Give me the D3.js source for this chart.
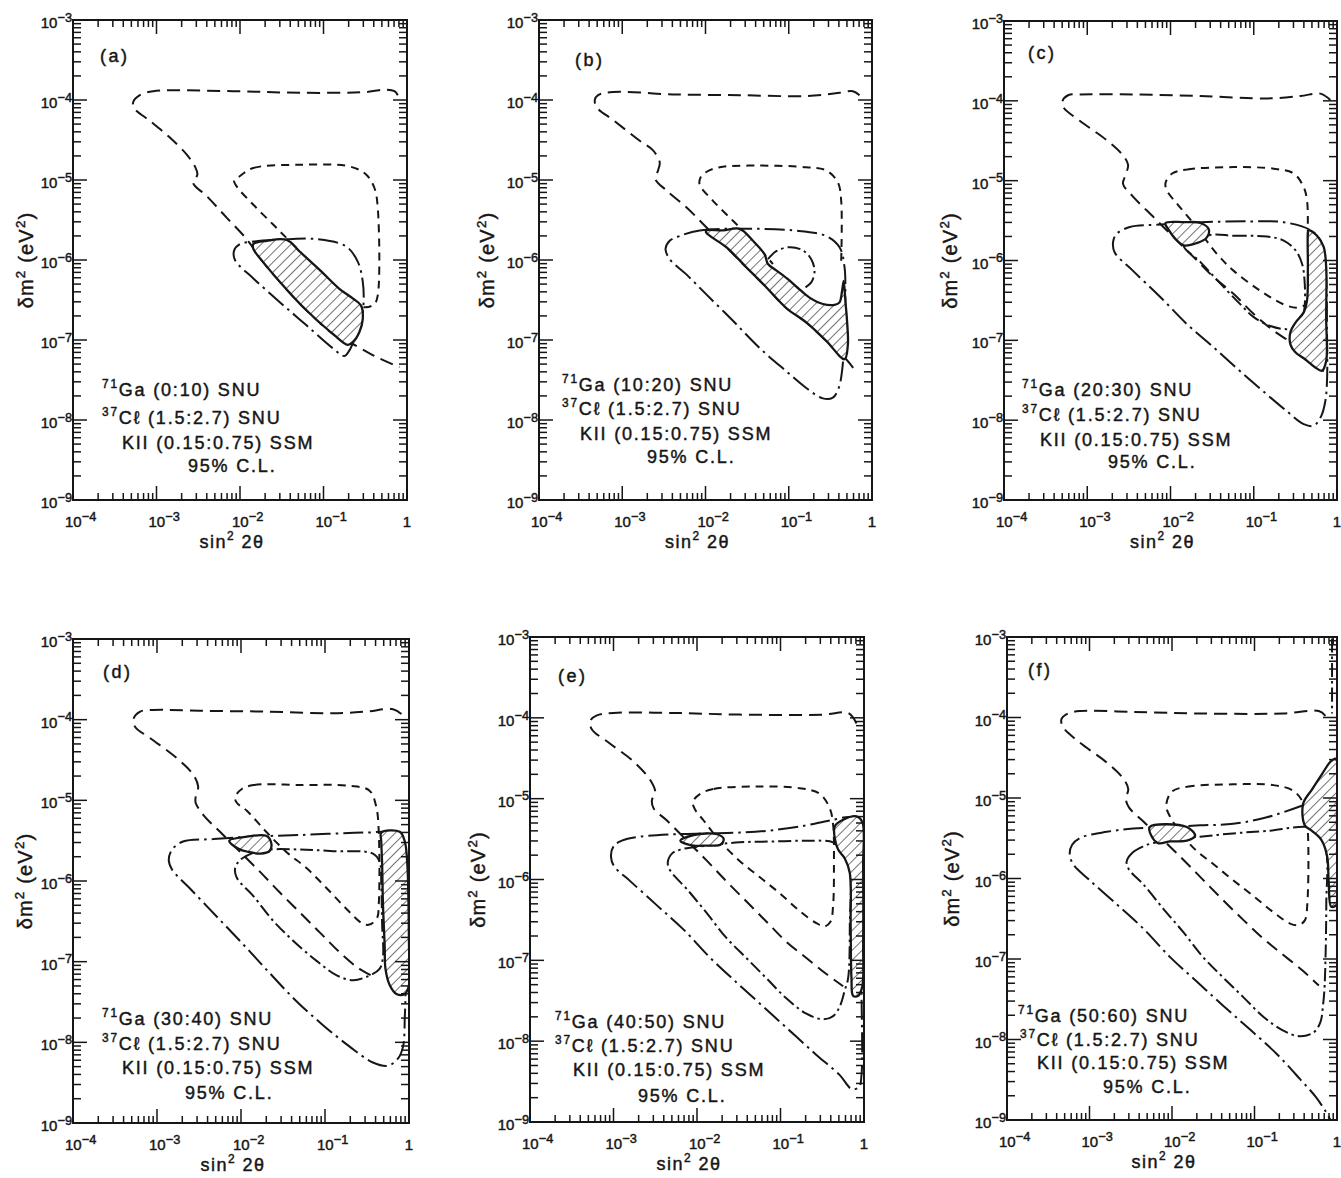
<!DOCTYPE html>
<html>
<head>
<meta charset="utf-8">
<script src="https://cdn.jsdelivr.net/npm/d3@7"></script>
<style>
  body { margin: 0; background: #fff; }
  svg { display: block; }
  text { font-family: "Liberation Sans", Arial, sans-serif; fill: #161616; stroke: #161616; stroke-width: 0.45px; }
</style>
</head>
<body>
<svg id="chart" width="1341" height="1178"></svg>
<script>
// axis decades (exponents of 10)
var xTickExps = [-4, -3, -2, -1, 0];
var yTickExps = [-3, -4, -5, -6, -7, -8, -9];

// panel texts
var panelLabels = ['(a)', '(b)', '(c)', '(d)', '(e)', '(f)'];
var gaRanges = ['(0:10)', '(10:20)', '(20:30)', '(30:40)', '(40:50)', '(50:60)'];
var clRange = '(1.5:2.7)';
var kRange = '(0.15:0.75)';
var clLevel = '95% C.L.';

// contours, points are [log10(sin^2 2theta), log10(dm^2)]
// ---- (a) 0:10 SNU
var a_bigDash = [[-0.11,-3.94],[-0.15,-3.89],[-0.25,-3.87],[-0.49,-3.90],[-1.28,-3.91],[-2.08,-3.89],[-3.04,-3.89],[-3.20,-3.94],[-3.28,-4.03],[-3.26,-4.11],[-3.08,-4.26],[-2.84,-4.47],[-2.64,-4.68],[-2.54,-4.83],[-2.51,-4.93],[-2.56,-5.04],[-2.40,-5.20],[-2.16,-5.47],[-1.92,-5.74],[-1.72,-6.03],[-1.50,-6.30],[-1.28,-6.55],[-1.08,-6.75],[-0.88,-6.93],[-0.65,-7.05],[-0.37,-7.21],[-0.09,-7.34]];
var a_smallDash = [[-2.00,-4.95],[-1.84,-4.85],[-1.28,-4.81],[-0.69,-4.83],[-0.49,-4.93],[-0.39,-5.10],[-0.35,-5.35],[-0.35,-6.44],[-0.39,-6.55],[-0.51,-6.59],[-0.71,-6.46],[-1.04,-6.15],[-1.40,-5.77],[-1.60,-5.56],[-1.84,-5.31],[-2.04,-5.08],[-2.07,-5.01]];
var a_dashDot = [[-2.00,-5.80],[-1.84,-5.77],[-1.44,-5.74],[-1.08,-5.74],[-0.73,-5.83],[-0.59,-6.02],[-0.53,-6.27],[-0.52,-6.53],[-0.55,-6.78],[-0.63,-6.99],[-0.69,-7.13],[-0.75,-7.20],[-0.88,-7.11],[-1.20,-6.82],[-1.52,-6.53],[-1.84,-6.23],[-2.06,-6.00],[-2.07,-5.88]];
var a_hatch = [[[-1.84,-5.80],[-1.68,-5.76],[-1.44,-5.75],[-1.28,-5.90],[-1.04,-6.13],[-0.81,-6.36],[-0.65,-6.48],[-0.55,-6.57],[-0.53,-6.74],[-0.57,-6.90],[-0.65,-7.03],[-0.71,-7.06],[-0.88,-6.93],[-1.08,-6.75],[-1.28,-6.55],[-1.50,-6.30],[-1.72,-6.03],[-1.84,-5.86]]];

// ---- (b) 10:20 SNU
var b_bigDash = [[-0.15,-3.94],[-0.23,-3.89],[-0.39,-3.91],[-0.79,-3.95],[-1.59,-3.94],[-2.39,-3.93],[-3.11,-3.90],[-3.29,-3.94],[-3.33,-4.00],[-3.30,-4.10],[-3.11,-4.25],[-2.79,-4.51],[-2.63,-4.63],[-2.55,-4.78],[-2.57,-4.88],[-2.60,-4.99],[-2.47,-5.13],[-2.23,-5.34],[-1.99,-5.59],[-1.75,-5.84],[-1.51,-6.09],[-1.27,-6.34],[-1.03,-6.60],[-0.79,-6.78],[-0.55,-7.01],[-0.31,-7.24],[-0.21,-7.37]];
var b_smallDash = [[-0.37,-6.01],[-0.37,-5.26],[-0.41,-5.03],[-0.55,-4.88],[-0.79,-4.84],[-1.39,-4.82],[-1.83,-4.84],[-1.99,-4.90],[-2.06,-4.97],[-2.07,-5.06],[-1.91,-5.26],[-1.67,-5.51],[-1.47,-5.72],[-1.29,-5.93],[-1.19,-6.05]];
var b_dashDot = [[-2.31,-5.70],[-2.07,-5.63],[-1.59,-5.61],[-0.95,-5.63],[-0.55,-5.70],[-0.39,-5.84],[-0.33,-6.09],[-0.32,-6.43],[-0.33,-6.93],[-0.36,-7.39],[-0.40,-7.60],[-0.47,-7.72],[-0.59,-7.73],[-0.79,-7.60],[-1.03,-7.39],[-1.35,-7.10],[-1.67,-6.76],[-1.99,-6.43],[-2.23,-6.18],[-2.43,-5.99],[-2.48,-5.86],[-2.43,-5.76]];
var b_dashDot2 = [[-1.25,-5.99],[-1.15,-5.89],[-0.99,-5.84],[-0.83,-5.88],[-0.73,-5.99],[-0.69,-6.14],[-0.73,-6.28],[-0.81,-6.35]];
var b_hatch = [[[-1.99,-5.63],[-1.79,-5.63],[-1.59,-5.61],[-1.43,-5.76],[-1.29,-5.93],[-1.25,-6.05],[-1.15,-6.13],[-1.01,-6.24],[-0.89,-6.35],[-0.75,-6.47],[-0.59,-6.55],[-0.45,-6.56],[-0.39,-6.53],[-0.36,-6.39],[-0.34,-6.26],[-0.32,-6.51],[-0.30,-6.76],[-0.29,-7.06],[-0.33,-7.24],[-0.55,-7.01],[-0.79,-6.78],[-1.03,-6.60],[-1.27,-6.34],[-1.51,-6.09],[-1.75,-5.84],[-1.99,-5.66]]];

// ---- (c) 20:30 SNU
var c_bigDash = [[-0.08,-3.99],[-0.20,-3.91],[-0.44,-3.94],[-0.84,-3.97],[-1.64,-3.94],[-2.45,-3.92],[-3.09,-3.92],[-3.23,-3.93],[-3.30,-4.01],[-3.28,-4.09],[-3.09,-4.25],[-2.77,-4.49],[-2.59,-4.66],[-2.51,-4.80],[-2.54,-4.93],[-2.57,-5.04],[-2.45,-5.20],[-2.20,-5.46],[-1.96,-5.71],[-1.72,-5.96],[-1.48,-6.21],[-1.24,-6.42],[-1.00,-6.67],[-0.76,-6.88],[-0.52,-7.05],[-0.28,-7.26],[-0.16,-7.39]];
var c_smallDash = [[-1.98,-4.91],[-1.80,-4.86],[-1.24,-4.83],[-0.76,-4.85],[-0.52,-4.91],[-0.40,-5.08],[-0.36,-5.25],[-0.35,-5.67],[-0.35,-6.42],[-0.38,-6.55],[-0.48,-6.59],[-0.64,-6.55],[-0.92,-6.38],[-1.24,-6.13],[-1.44,-5.92],[-1.72,-5.54],[-1.92,-5.29],[-2.04,-5.13],[-2.06,-5.03]];
var c_dashDot = [[-2.49,-5.58],[-2.12,-5.55],[-1.64,-5.52],[-1.04,-5.51],[-0.64,-5.52],[-0.32,-5.62],[-0.20,-5.75],[-0.14,-6.08],[-0.12,-6.92],[-0.12,-7.51],[-0.14,-7.76],[-0.19,-7.95],[-0.28,-8.07],[-0.40,-8.05],[-0.60,-7.89],[-0.84,-7.68],[-1.16,-7.39],[-1.48,-7.09],[-1.80,-6.80],[-2.12,-6.46],[-2.45,-6.13],[-2.67,-5.90],[-2.69,-5.77],[-2.65,-5.67]];
var c_dashDot2 = [[-1.52,-5.68],[-1.24,-5.69],[-0.84,-5.70],[-0.64,-5.75],[-0.50,-5.87],[-0.42,-6.04],[-0.39,-6.25],[-0.39,-6.59],[-0.44,-6.82],[-0.60,-6.86],[-0.80,-6.82],[-1.00,-6.71],[-1.16,-6.55],[-1.40,-6.29],[-1.64,-6.02],[-1.84,-5.81]];
var c_hatch = [
  [[-2.06,-5.53],[-1.84,-5.52],[-1.64,-5.53],[-1.54,-5.61],[-1.57,-5.72],[-1.68,-5.78],[-1.84,-5.81],[-1.94,-5.73],[-2.02,-5.62]],
  [[-0.34,-5.62],[-0.24,-5.69],[-0.16,-5.83],[-0.13,-6.08],[-0.13,-6.71],[-0.13,-7.26],[-0.18,-7.38],[-0.26,-7.34],[-0.38,-7.24],[-0.50,-7.15],[-0.56,-7.05],[-0.56,-6.90],[-0.50,-6.78],[-0.40,-6.65],[-0.36,-6.50],[-0.35,-6.08],[-0.35,-5.67]]
];

// ---- (d) 30:40 SNU
var d_bigDash = [[-0.09,-3.93],[-0.19,-3.87],[-0.51,-3.90],[-0.90,-3.92],[-1.70,-3.90],[-2.49,-3.89],[-3.04,-3.88],[-3.20,-3.90],[-3.28,-3.99],[-3.26,-4.09],[-3.08,-4.23],[-2.76,-4.48],[-2.57,-4.68],[-2.51,-4.83],[-2.54,-4.96],[-2.54,-5.03],[-2.45,-5.18],[-2.25,-5.39],[-2.01,-5.64],[-1.77,-5.89],[-1.54,-6.14],[-1.30,-6.39],[-1.06,-6.64],[-0.82,-6.89],[-0.59,-7.09],[-0.43,-7.18]];
var d_smallDash = [[-1.99,-4.86],[-1.85,-4.81],[-1.30,-4.81],[-0.71,-4.82],[-0.47,-4.88],[-0.39,-5.08],[-0.36,-5.39],[-0.36,-6.29],[-0.38,-6.46],[-0.47,-6.54],[-0.55,-6.53],[-0.75,-6.34],[-0.98,-6.09],[-1.22,-5.84],[-1.46,-5.64],[-1.70,-5.39],[-1.93,-5.13],[-2.05,-5.03],[-2.07,-4.96]];
var d_dashDot = [[-2.69,-5.51],[-2.33,-5.48],[-1.89,-5.45],[-1.30,-5.43],[-0.51,-5.40],[-0.19,-5.41],[-0.11,-5.59],[-0.07,-6.04],[-0.05,-6.79],[-0.04,-7.29],[-0.05,-7.69],[-0.07,-8.05],[-0.13,-8.20],[-0.25,-8.29],[-0.43,-8.25],[-0.71,-8.05],[-1.02,-7.79],[-1.34,-7.49],[-1.66,-7.14],[-1.97,-6.79],[-2.29,-6.44],[-2.61,-6.09],[-2.82,-5.86],[-2.86,-5.74],[-2.82,-5.61]];
var d_dashDot2 = [[-2.01,-5.74],[-1.85,-5.65],[-1.66,-5.61],[-1.30,-5.61],[-0.90,-5.63],[-0.43,-5.66],[-0.35,-5.76],[-0.33,-6.04],[-0.32,-6.54],[-0.31,-6.94],[-0.35,-7.09],[-0.51,-7.19],[-0.67,-7.23],[-0.86,-7.17],[-1.10,-6.99],[-1.38,-6.74],[-1.62,-6.49],[-1.85,-6.19],[-2.05,-5.96],[-2.07,-5.84]];
var d_hatch = [
  [[-2.14,-5.50],[-1.93,-5.45],[-1.70,-5.44],[-1.64,-5.53],[-1.66,-5.63],[-1.77,-5.66],[-1.91,-5.64],[-2.03,-5.60]],
  [[-0.33,-5.40],[-0.11,-5.39],[-0.05,-5.51],[-0.02,-5.79],[0,-6.79],[0,-7.29],[-0.05,-7.40],[-0.15,-7.40],[-0.23,-7.29],[-0.28,-7.09],[-0.29,-6.79],[-0.31,-6.29],[-0.32,-5.79],[-0.33,-5.51]]
];

// ---- (e) 40:50 SNU
var e_bigDash = [[-0.09,-4.07],[-0.19,-3.94],[-0.49,-3.96],[-1.49,-3.96],[-2.28,-3.94],[-3.00,-3.94],[-3.20,-3.97],[-3.28,-4.04],[-3.26,-4.14],[-3.04,-4.32],[-2.76,-4.54],[-2.56,-4.77],[-2.50,-4.92],[-2.54,-5.02],[-2.52,-5.12],[-2.36,-5.27],[-2.12,-5.52],[-1.88,-5.77],[-1.65,-6.02],[-1.41,-6.27],[-1.17,-6.52],[-0.93,-6.77],[-0.69,-6.97],[-0.45,-7.17],[-0.25,-7.32]];
var e_smallDash = [[-1.96,-4.94],[-1.80,-4.88],[-1.29,-4.85],[-0.77,-4.87],[-0.53,-4.94],[-0.41,-5.12],[-0.37,-5.32],[-0.36,-5.82],[-0.37,-6.32],[-0.40,-6.52],[-0.47,-6.58],[-0.57,-6.54],[-0.77,-6.39],[-1.01,-6.17],[-1.25,-5.97],[-1.49,-5.77],[-1.73,-5.52],[-1.92,-5.27],[-2.02,-5.14],[-2.05,-5.04]];
var e_dashDot = [[-2.90,-5.52],[-3.00,-5.59],[-3.03,-5.72],[-2.99,-5.84],[-2.80,-6.02],[-2.48,-6.32],[-2.16,-6.62],[-1.84,-6.97],[-1.53,-7.27],[-1.21,-7.57],[-0.89,-7.87],[-0.57,-8.17],[-0.29,-8.42],[-0.15,-8.59],[-0.06,-8.57],[-0.03,-8.42],[-0.03,-7.32],[-0.03,-6.32],[-0.05,-5.42],[-0.13,-5.24],[-0.41,-5.27],[-0.69,-5.33],[-1.09,-5.39],[-1.49,-5.42],[-1.88,-5.43],[-2.28,-5.44],[-2.68,-5.47]];
var e_dashDot2 = [[-2.20,-5.63],[-2.30,-5.68],[-2.35,-5.79],[-2.32,-5.89],[-2.12,-6.12],[-1.88,-6.42],[-1.65,-6.72],[-1.41,-6.97],[-1.17,-7.22],[-0.93,-7.47],[-0.69,-7.66],[-0.49,-7.73],[-0.37,-7.69],[-0.29,-7.57],[-0.23,-7.37],[-0.19,-7.22],[-0.17,-6.57],[-0.18,-5.82],[-0.29,-5.62],[-0.37,-5.54],[-0.69,-5.52],[-1.09,-5.53],[-1.49,-5.54],[-1.88,-5.58]];
var e_hatch = [
  [[-2.20,-5.52],[-2.04,-5.45],[-1.76,-5.44],[-1.68,-5.50],[-1.72,-5.57],[-1.88,-5.58],[-2.04,-5.58]],
  [[-0.35,-5.34],[-0.25,-5.26],[-0.09,-5.22],[-0.02,-5.29],[-0.01,-5.82],[-0.01,-6.82],[-0.02,-7.32],[-0.07,-7.44],[-0.13,-7.44],[-0.15,-7.22],[-0.16,-6.57],[-0.17,-5.92],[-0.23,-5.74],[-0.31,-5.63],[-0.35,-5.49]]
];

// ---- (f) 50:60 SNU
var f_bigDash = [[-0.14,-3.98],[-0.22,-3.92],[-0.65,-3.95],[-1.66,-3.95],[-2.47,-3.93],[-3.12,-3.92],[-3.26,-3.95],[-3.34,-4.02],[-3.32,-4.12],[-3.12,-4.31],[-2.79,-4.56],[-2.59,-4.76],[-2.53,-4.89],[-2.56,-5.01],[-2.52,-5.12],[-2.35,-5.29],[-2.11,-5.52],[-1.86,-5.77],[-1.62,-6.02],[-1.38,-6.27],[-1.13,-6.52],[-0.89,-6.75],[-0.65,-6.95],[-0.41,-7.15],[-0.22,-7.33]];
var f_smallDash = [[-2.00,-4.92],[-1.82,-4.86],[-1.26,-4.83],[-0.77,-4.84],[-0.53,-4.91],[-0.41,-5.06],[-0.36,-5.32],[-0.36,-6.32],[-0.39,-6.52],[-0.47,-6.58],[-0.57,-6.56],[-0.77,-6.42],[-1.01,-6.22],[-1.26,-6.02],[-1.50,-5.82],[-1.74,-5.62],[-1.90,-5.42],[-2.02,-5.24],[-2.07,-5.09]];
var f_dashDot = [[-0.41,-5.09],[-0.85,-5.24],[-1.26,-5.32],[-1.66,-5.34],[-2.07,-5.36],[-2.47,-5.38],[-2.79,-5.42],[-3.10,-5.49],[-3.21,-5.58],[-3.24,-5.69],[-3.20,-5.82],[-3.00,-6.02],[-2.67,-6.32],[-2.35,-6.62],[-2.02,-6.98],[-1.70,-7.28],[-1.38,-7.58],[-1.05,-7.88],[-0.73,-8.18],[-0.45,-8.49],[-0.26,-8.71],[-0.14,-8.89],[-0.08,-9.00]];
var f_dashDot2 = [[-2.35,-5.60],[-2.48,-5.68],[-2.55,-5.79],[-2.52,-5.89],[-2.35,-6.07],[-2.11,-6.37],[-1.86,-6.67],[-1.62,-6.98],[-1.38,-7.23],[-1.13,-7.48],[-0.89,-7.72],[-0.65,-7.89],[-0.45,-7.96],[-0.28,-7.91],[-0.20,-7.78],[-0.17,-7.58],[-0.15,-7.33],[-0.13,-6.32],[-0.14,-5.62],[-0.28,-5.38],[-0.85,-5.41],[-1.26,-5.44],[-1.66,-5.48],[-2.07,-5.52],[-2.23,-5.56]];
var f_edgeDashDot = [[-0.06,-3.02],[-0.06,-3.50],[-0.06,-3.95]];
var f_hatch = [
  [[-2.27,-5.36],[-1.82,-5.36],[-1.72,-5.47],[-1.82,-5.53],[-2.02,-5.54],[-2.17,-5.56],[-2.25,-5.47]],
  [[-0.41,-5.07],[-0.30,-4.89],[-0.18,-4.70],[-0.08,-4.55],[-0.02,-4.51],[0,-4.54],[0,-5.32],[0,-6.32],[-0.07,-6.35],[-0.10,-6.07],[-0.12,-5.72],[-0.19,-5.52],[-0.30,-5.41],[-0.39,-5.34]]
];

// ---- layout (pixels)
var frames = [
  {x0: 73,   x1: 407,  y0: 20,  y1: 500},
  {x0: 539,  x1: 872,  y0: 20,  y1: 500},
  {x0: 1004, x1: 1337, y0: 21,  y1: 500},
  {x0: 73,   x1: 409,  y0: 639, y1: 1123},
  {x0: 530,  x1: 864,  y0: 637, y1: 1122},
  {x0: 1007, x1: 1337, y0: 637, y1: 1120}
];
// text block offsets: [dx, dyFromBottom] for each of the 4 lines, plus label and y-title offsets
var textPos = [
  {lines: [[29,-104],[29,-76],[49,-51],[115,-28]], lab: [27,42], yt: -47},
  {lines: [[23,-109],[23,-85],[41,-60],[108,-37]], lab: [36,46], yt: -52},
  {lines: [[18,-104],[18,-79],[36,-54],[104,-32]], lab: [24,38], yt: -54},
  {lines: [[29,-98],[29,-73],[49,-49],[112,-24]],  lab: [30,39], yt: -48},
  {lines: [[25,-94],[25,-70],[43,-46],[108,-20]],  lab: [28,45], yt: -52},
  {lines: [[11,-98],[13,-74],[30,-51],[96,-27]],   lab: [21,39], yt: -55}
];

var panelData = [
  {big: a_bigDash, small: a_smallDash, smallClosed: true, dd: a_dashDot, ddClosed: true, dd2: null, hatch: a_hatch},
  {big: b_bigDash, small: b_smallDash, smallClosed: false, dd: b_dashDot, ddClosed: true, dd2: b_dashDot2, dd2Closed: false, hatch: b_hatch},
  {big: c_bigDash, small: c_smallDash, smallClosed: true, dd: c_dashDot, ddClosed: true, dd2: c_dashDot2, dd2Closed: true, hatch: c_hatch},
  {big: d_bigDash, small: d_smallDash, smallClosed: true, dd: d_dashDot, ddClosed: true, dd2: d_dashDot2, dd2Closed: true, hatch: d_hatch},
  {big: e_bigDash, small: e_smallDash, smallClosed: true, dd: e_dashDot, ddClosed: true, dd2: e_dashDot2, dd2Closed: true, hatch: e_hatch},
  {big: f_bigDash, small: f_smallDash, smallClosed: true, dd: f_dashDot, ddClosed: false, dd2: f_dashDot2, dd2Closed: true, hatch: f_hatch, edge: f_edgeDashDot}
];

var ink = '#161616';
var svg = d3.select('#chart');
var defs = svg.append('defs');

var pat = defs.append('pattern')
  .attr('id', 'hatch')
  .attr('patternUnits', 'userSpaceOnUse')
  .attr('width', 7).attr('height', 7)
  .attr('patternTransform', 'rotate(45)');
pat.append('rect').attr('width', 7).attr('height', 7).attr('fill', '#fff');
pat.append('line').attr('x1', 0).attr('y1', 0).attr('x2', 0).attr('y2', 7)
  .attr('stroke', ink).attr('stroke-width', 1.2);

// text with superscripts, parts = [[string, isSup], ...]
function richText(sel, parts, size, supRatio) {
  var cur = 0;
  var r = supRatio || 0.66;
  parts.forEach(function(p) {
    var t = sel.append('tspan').text(p[0]);
    var target = p[1] ? -size * 0.42 : 0;
    if (p[1]) t.attr('font-size', size * r);
    if (target !== cur) t.attr('dy', target - cur);
    cur = target;
  });
  return sel;
}

function isMajor(v) {
  var l = Math.log10(v);
  return Math.abs(l - Math.round(l)) < 1e-6;
}

frames.forEach(function(F, i) {
  var g = svg.append('g');
  var P = panelData[i];
  var T = textPos[i];

  var x = d3.scaleLog().domain([1e-4, 1]).range([F.x0, F.x1]);
  var y = d3.scaleLog().domain([1e-9, 1e-3]).range([F.y1, F.y0]);

  defs.append('clipPath').attr('id', 'clip' + i)
    .append('rect').attr('x', F.x0).attr('y', F.y0)
    .attr('width', F.x1 - F.x0).attr('height', F.y1 - F.y0);

  var plot = g.append('g').attr('clip-path', 'url(#clip' + i + ')');

  var lineOpen = d3.line()
    .x(function(p) { return x(Math.pow(10, p[0])); })
    .y(function(p) { return y(Math.pow(10, p[1])); })
    .curve(d3.curveCatmullRom.alpha(0.5));
  var lineClosed = d3.line()
    .x(function(p) { return x(Math.pow(10, p[0])); })
    .y(function(p) { return y(Math.pow(10, p[1])); })
    .curve(d3.curveCatmullRomClosed.alpha(0.5));

  function contour(pts, closed, dash, w) {
    plot.append('path')
      .attr('d', (closed ? lineClosed : lineOpen)(pts))
      .attr('fill', 'none')
      .attr('stroke', ink)
      .attr('stroke-width', w || 2)
      .attr('stroke-dasharray', dash)
      .attr('stroke-linecap', 'butt');
  }

  // 37Cl contour (long dashes) and Kamiokande contour (shorter dashes)
  contour(P.big, false, '13,7', 2);
  contour(P.small, P.smallClosed, '8,6', 2);
  // Ga contours (dash-dot)
  contour(P.dd, P.ddClosed, '20,5,2.5,5', 2);
  if (P.dd2) contour(P.dd2, P.dd2Closed, '13,4,2.5,4', 2);
  if (P.edge) contour(P.edge, false, '14,4,2.5,4', 2);

  // allowed regions
  P.hatch.forEach(function(h) {
    plot.append('path')
      .attr('d', lineClosed(h))
      .attr('fill', 'url(#hatch)')
      .attr('stroke', ink)
      .attr('stroke-width', 2.3)
      .attr('stroke-linejoin', 'round');
  });

  // frame
  g.append('rect')
    .attr('x', F.x0).attr('y', F.y0)
    .attr('width', F.x1 - F.x0).attr('height', F.y1 - F.y0)
    .attr('fill', 'none').attr('stroke', ink).attr('stroke-width', 2);

  // ticks on all four sides
  var ticks = g.append('g').attr('stroke', ink).attr('stroke-width', 1.5);
  x.ticks().forEach(function(v) {
    var len = isMajor(v) ? 14 : 7;
    var px = x(v);
    ticks.append('line').attr('x1', px).attr('x2', px).attr('y1', F.y1).attr('y2', F.y1 - len);
    ticks.append('line').attr('x1', px).attr('x2', px).attr('y1', F.y0).attr('y2', F.y0 + len);
  });
  y.ticks().forEach(function(v) {
    var len = isMajor(v) ? 14 : 8;
    var py = y(v);
    ticks.append('line').attr('y1', py).attr('y2', py).attr('x1', F.x0).attr('x2', F.x0 + len);
    ticks.append('line').attr('y1', py).attr('y2', py).attr('x1', F.x1).attr('x2', F.x1 - len);
  });

  // tick labels
  xTickExps.forEach(function(e) {
    var px = x(Math.pow(10, e));
    var t = g.append('text').attr('font-size', 15).attr('y', F.y1 + 27);
    if (e === 0) {
      t.attr('x', px).attr('text-anchor', 'middle').text('1');
    } else {
      t.attr('x', px - 8);
      richText(t, [['10', false], ['\u2212' + (-e), true]], 15, 0.85);
    }
  });
  yTickExps.forEach(function(e) {
    var py = y(Math.pow(10, e));
    var t = g.append('text').attr('font-size', 15)
      .attr('x', F.x0 - 1).attr('y', py + 8).attr('text-anchor', 'end');
    richText(t, [['10', false], ['\u2212' + (-e), true]], 15, 0.85);
  });

  // axis titles
  var xt = g.append('text').attr('font-size', 18).attr('letter-spacing', 1.5)
    .attr('x', (F.x0 + F.x1) / 2 - 8).attr('y', F.y1 + 48).attr('text-anchor', 'middle');
  richText(xt, [['sin', false], ['2', true], [' 2\u03b8', false]], 18);

  var cy = (F.y0 + F.y1) / 2;
  var cx = F.x0 + T.yt;
  var yt = g.append('text').attr('font-size', 20).attr('letter-spacing', 1.2)
    .attr('text-anchor', 'middle')
    .attr('transform', 'translate(' + (cx + 7) + ',' + cy + ') rotate(-90)');
  richText(yt, [['\u03b4m', false], ['2', true], ['  (eV', false], ['2', true], [')', false]], 20);

  // panel label
  g.append('text').attr('font-size', 18).attr('letter-spacing', 2.5)
    .attr('x', F.x0 + T.lab[0]).attr('y', F.y0 + T.lab[1]).text(panelLabels[i]);

  // experiment text block
  var blocks = [
    [['71', true], ['Ga ' + gaRanges[i] + ' SNU', false]],
    [['37', true], ['C\u2113 ' + clRange + ' SNU', false]],
    [['KII ' + kRange + ' SSM', false]],
    [[clLevel, false]]
  ];
  blocks.forEach(function(parts, k) {
    var t = g.append('text').attr('font-size', 18).attr('letter-spacing', 1.8)
      .attr('x', F.x0 + T.lines[k][0]).attr('y', F.y1 + T.lines[k][1]);
    richText(t, parts, 18);
  });
});
</script>
</body>
</html>
